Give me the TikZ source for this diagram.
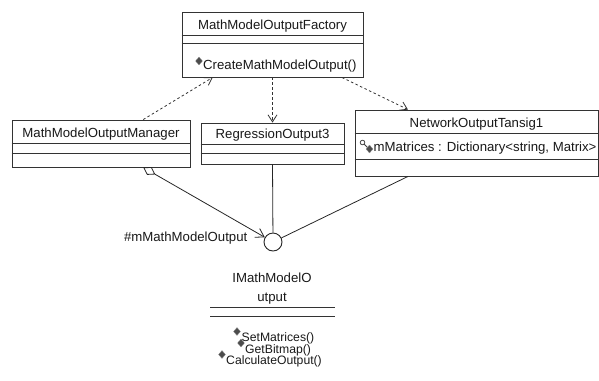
\documentclass[tikz,border=0pt]{standalone}
\usepackage{fontspec}
\setmainfont{Liberation Sans}
\usetikzlibrary{arrows.meta,calc,shapes.geometric}
\begin{document}
\begin{tikzpicture}[x=1bp,y=-1bp,
  every node/.style={font=\fontsize{13.2bp}{15bp}\selectfont, text=black!90},
  classbox/.style={draw=black!80, line width=0.9bp, fill=white, inner sep=0pt, rectangle},
  sep/.style={draw=black!80, line width=0.9bp},
  lbl/.style={inner sep=0pt, text height=9.5bp, text depth=0pt},
  oplbl/.style={inner sep=0pt, anchor=base west, font=\fontsize{12.2bp}{14bp}\selectfont},
  opmark/.style={diamond, fill=black!70, draw=black!45, line width=0.3bp, inner sep=0pt,
    minimum width=7bp, minimum height=8bp},
  dep/.style={draw=black!80, line width=0.8bp, dash pattern=on 2.5bp off 2.5bp,
    -{Straight Barb[length=7bp,width=9bp]}},
  assoc/.style={draw=black!85, line width=0.8bp},
]
\useasboundingbox (0,0) rectangle (599,380);

% ---- classes ----
\node[classbox, minimum width=181bp, minimum height=65bp] (fac) at (272.5,44.5) {};
\draw[sep] ($(fac.north west)+(0,24)$) -- ($(fac.north east)+(0,24)$);
\draw[sep] ($(fac.north west)+(0,32)$) -- ($(fac.north east)+(0,32)$);
\node[lbl] (facname) at (272.5,25) {MathModelOutputFactory};
\node[opmark] (facop) at (199,61) {};
\node[lbl, anchor=west] (facmeth) at (203,65) {CreateMathModelOutput()};

\node[classbox, minimum width=178bp, minimum height=47bp] (mgr) at (101,143.5) {};
\draw[sep] ($(mgr.north west)+(0,24)$) -- ($(mgr.north east)+(0,24)$);
\draw[sep] ($(mgr.north west)+(0,34)$) -- ($(mgr.north east)+(0,34)$);
\node[lbl] (mgrname) at (101,133) {MathModelOutputManager};

\node[classbox, minimum width=143bp, minimum height=41bp] (reg) at (272.5,143.5) {};
\draw[sep] ($(reg.north west)+(0,22)$) -- ($(reg.north east)+(0,22)$);
\draw[sep] ($(reg.north west)+(0,31)$) -- ($(reg.north east)+(0,31)$);
\node[lbl] (regname) at (272.5,134) {RegressionOutput3};

\node[classbox, minimum width=243bp, minimum height=66bp] (net) at (476.5,143) {};
\draw[sep] ($(net.north west)+(0,24)$) -- ($(net.north east)+(0,24)$);
\draw[sep] ($(net.north west)+(0,50)$) -- ($(net.north east)+(0,50)$);
\node[lbl] (netname) at (476.5,123) {NetworkOutputTansig1};
% protected attribute marker (key over a diamond)
\draw[black!75, line width=0.8bp] (362.5,142.5) circle (2.3bp);
\draw[black!75, line width=0.9bp] (364.2,144.2) -- (368.5,148.5);
\node[opmark] (netattrmark) at (369.5,149) {};
\node[lbl, anchor=west] (netattr) at (373.5,147) {mMatrices : Dictionary<string, Matrix>};

% ---- interface ----
\node[circle, draw=black!85, line width=0.9bp, fill=white, minimum size=18bp, inner sep=0pt] (iface) at (273,242) {};
\node[lbl, anchor=east] (role) at (247.5,237) {\#mMathModelOutput};
\node[inner sep=0pt, anchor=base] (ifname1) at (272,282) {IMathModelO};
\node[inner sep=0pt, anchor=base] (ifname2) at (272,301) {utput};
\draw[sep] (210,307) -- (335,307);
\draw[sep] (210,316) -- (335,316);
\node[opmark] (ifop1) at (237,331.5) {};
\node[oplbl] (ifm1) at (241.5,341.5) {SetMatrices()};
\node[opmark] (ifop2) at (241,343) {};
\node[oplbl] (ifm2) at (245,353) {GetBitmap()};
\node[opmark] (ifop3) at (222,354.5) {};
\node[oplbl] (ifm3) at (226,364.5) {CalculateOutput()};

% ---- dependencies ----
\draw[dep] ($(mgr.north west)!0.736!(mgr.north east)$) -- ($(fac.south west)!0.171!(fac.south east)$);
\draw[dep] (fac.south) -- (reg.north);
\draw[dep] ($(fac.south west)!0.882!(fac.south east)$) -- ($(net.north west)!0.219!(net.north east)$);

% ---- realisations / association ----
\draw[assoc, {Diamond[open,length=14bp,width=9bp]}-{Straight Barb[length=8bp,width=10bp]}]
  ($(mgr.south west)!0.736!(mgr.south east)$) -- (iface);
\draw[assoc] (reg.south) -- (iface);
\draw[assoc] ($(net.south west)!0.219!(net.south east)$) -- (iface);
\end{tikzpicture}
\end{document}
